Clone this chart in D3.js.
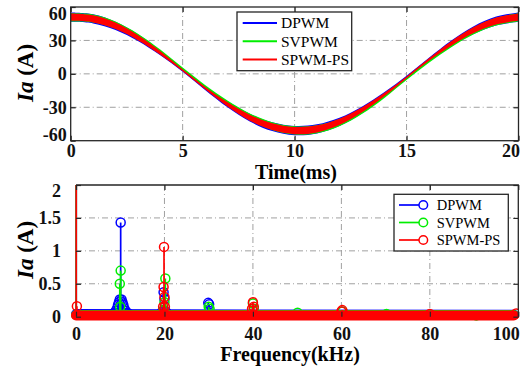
<!DOCTYPE html>
<html>
<head>
<meta charset="utf-8">
<script src="https://cdn.jsdelivr.net/npm/d3@7"></script>
<style>
  body { margin: 0; background: #fff; }
  text { font-family: "Liberation Serif", "Times New Roman", serif; }
</style>
</head>
<body>
<svg width="527" height="370"></svg>
<script>
// ---------- top panel: phase current over one period ----------
var timeMs = [0, 1, 2, 3, 4, 5, 6, 7, 8, 9, 10, 11, 12, 13, 14, 15, 16, 17, 18, 19, 20];
var dpwmIa = [50.9, 49.4, 43.1, 32.5, 18.8, 3.2, -12.7, -27.3, -39.3, -47.4, -50.9,
  -49.4, -43.1, -32.5, -18.8, -3.2, 12.7, 27.3, 39.3, 47.4, 50.9];
var svpwmIa = [50.6, 49.7, 43.8, 33.4, 19.9, 4.4, -11.5, -26.2, -38.5, -46.9, -50.8,
  -49.7, -43.8, -33.4, -19.9, -4.4, 11.5, 26.2, 38.5, 46.9, 50.6];
var spwmIa = [50.9, 49.4, 43.1, 32.5, 18.8, 3.2, -12.7, -27.3, -39.3, -47.4, -50.9,
  -49.4, -43.1, -32.5, -18.8, -3.2, 12.7, 27.3, 39.3, 47.4, 50.9];
// half width of the switching ripple band (A)
var dpwmRipple = [4.2, 4.1, 3.7, 3.0, 2.2, 1.4, 1.8, 2.7, 3.5, 4.0, 4.2, 4.1, 3.7, 3.0, 2.2, 1.4, 1.8, 2.7, 3.5, 4.0, 4.2];
var svpwmRipple = [3.7, 3.6, 3.2, 2.6, 1.9, 1.2, 1.5, 2.3, 3.0, 3.5, 3.7, 3.6, 3.2, 2.6, 1.9, 1.2, 1.5, 2.3, 3.0, 3.5, 3.7];
var spwmRipple = [3.3, 3.2, 2.9, 2.3, 1.6, 0.9, 1.2, 2.0, 2.7, 3.1, 3.3, 3.2, 2.9, 2.3, 1.6, 0.9, 1.2, 2.0, 2.7, 3.1, 3.3];
var timeTicks = [0, 5, 10, 15, 20];
var iaTicks = [-60, -30, 0, 30, 60];

// ---------- bottom panel: harmonic spectrum ----------
var dpwmFreq = [0.05, 8.3, 8.7, 9.0, 9.3, 9.5, 9.7, 9.9, 10.1, 10.3, 10.5, 10.7, 10.9, 11.2, 11.6, 12.0,
  19.2, 19.5, 19.8, 20.0, 20.3, 20.6, 29.9, 30.1];
var dpwmAmp = [50, 0.04, 0.06, 0.09, 0.13, 0.18, 0.22, 0.26, 1.43, 0.26, 0.22, 0.18, 0.13, 0.09, 0.06, 0.04,
  0.05, 0.08, 0.37, 0.27, 0.08, 0.05, 0.21, 0.19];
var svpwmFreq = [0.05, 9.9, 10.0, 10.1, 19.8, 20.0, 20.2, 30.0, 30.2, 40.0, 40.2, 50.1, 60.3, 70.2, 90.5];
var svpwmAmp = [50, 0.5, 0.15, 0.7, 0.1, 0.22, 0.58, 0.15, 0.12, 0.2, 0.12, 0.06, 0.08, 0.04, 0.02];
var spwmFreq = [0.05, 0.2, 19.7, 19.8, 19.9, 20.0, 20.1, 39.8, 40.0, 40.2, 60.0, 60.2, 80.0, 99.5];
var spwmAmp = [50, 0.16, 0.15, 0.45, 1.06, 0.3, 0.15, 0.12, 0.22, 0.15, 0.08, 0.1, 0.04, 0.05];
// dense near-zero bins (drawn as a band of overlapping markers)
var floorFreq = [0, 40, 99];
var dpwmFloor = [0.04, 0.035, 0.03];
var svpwmFloor = [0.025, 0.025, 0.025];
var spwmFloor = [0.02, 0.02, 0.02];
var freqTicks = [0, 20, 40, 60, 80, 100];
var ampTicks = [0, 0.5, 1, 1.5, 2];

var seriesNames = ["DPWM", "SVPWM", "SPWM-PS"];
var colors = ["#0000ff", "#00ee00", "#ff0000"];

var svg = d3.select("svg");

var defs = svg.append("defs");
defs.append("clipPath").attr("id", "clipTop")
  .append("rect").attr("x", 70.7).attr("y", 7).attr("width", 447.8).attr("height", 133.7);
defs.append("clipPath").attr("id", "clipBot")
  .append("rect").attr("x", 60).attr("y", 185).attr("width", 459).attr("height", 145);

// ================= TOP =================
var xT = d3.scaleLinear().domain([0, 20]).range([70.7, 518.5]);
var yT = d3.scaleLinear().domain([-60, 60]).range([140.7, 7]);

// grid (dash-dot)
var gT = svg.append("g");
gT.selectAll("line.gx").data(timeTicks.slice(1, -1)).enter().append("line")
  .attr("x1", d => xT(d)).attr("x2", d => xT(d)).attr("y1", 7).attr("y2", 140.7)
  .attr("stroke", "#a0a0a0").attr("stroke-dasharray", "6,3,1,3");
gT.selectAll("line.gy").data(iaTicks.slice(1, -1)).enter().append("line")
  .attr("x1", 70.7).attr("x2", 518.5).attr("y1", d => yT(d)).attr("y2", d => yT(d))
  .attr("stroke", "#a0a0a0").attr("stroke-dasharray", "6,3,1,3");

var topSeries = [
  { v: dpwmIa, r: dpwmRipple },
  { v: svpwmIa, r: svpwmRipple },
  { v: spwmIa, r: spwmRipple }
];
var band = d3.area()
  .x((d, i) => xT(timeMs[i]))
  .y0(d => yT(d[0] - d[1]))
  .y1(d => yT(d[0] + d[1]))
  .curve(d3.curveCatmullRom);
var topPlot = svg.append("g").attr("clip-path", "url(#clipTop)");
topSeries.forEach(function (s, k) {
  var pts = s.v.map((v, i) => [v, s.r[i]]);
  topPlot.append("path").datum(pts).attr("d", band).attr("fill", colors[k]);
});

// axes with inward ticks
svg.append("g").attr("transform", "translate(0,140.7)")
  .call(d3.axisBottom(xT).tickValues(timeTicks).tickFormat(d => String(d)).tickSize(-5).tickPadding(4))
  .call(styleAxis)
  .call(g => g.selectAll(".tick text").filter(d => d === 20).attr("text-anchor", "end").attr("x", 1));
svg.append("g").attr("transform", "translate(0,7)")
  .call(d3.axisTop(xT).tickValues(timeTicks).tickSize(-5).tickFormat(""))
  .call(styleAxis);
svg.append("g").attr("transform", "translate(70.7,0)")
  .call(d3.axisLeft(yT).tickValues(iaTicks).tickFormat(d => String(d)).tickSize(-5).tickPadding(4))
  .call(styleAxis)
  .call(g => g.selectAll(".tick text").filter(d => d === 60).attr("y", 6.5))
  .call(g => g.selectAll(".tick text").filter(d => d === -60).attr("y", -5.5));
svg.append("g").attr("transform", "translate(518.5,0)")
  .call(d3.axisRight(yT).tickValues(iaTicks).tickSize(-5).tickFormat(""))
  .call(styleAxis);
svg.append("rect").attr("x", 70.7).attr("y", 7).attr("width", 447.8).attr("height", 133.7)
  .attr("fill", "none").attr("stroke", "#262626").attr("stroke-width", 1.3);

// legend top
var lgT = svg.append("g");
lgT.append("rect").attr("x", 237).attr("y", 12).attr("width", 114.7).attr("height", 58.7)
  .attr("fill", "#fff").attr("stroke", "#262626").attr("stroke-width", 1.3);
seriesNames.forEach(function (n, k) {
  var y = 23 + k * 18.2;
  lgT.append("line").attr("x1", 242.7).attr("x2", 277).attr("y1", y).attr("y2", y)
    .attr("stroke", colors[k]).attr("stroke-width", 2);
  lgT.append("text").attr("x", 281).attr("y", y).attr("dy", "0.35em")
    .style("font-size", "15.5px").text(n);
});

// labels top
svg.append("text").attr("x", 296).attr("y", 178.5).attr("text-anchor", "middle")
  .style("font-size", "20px").style("font-weight", "bold").text("Time(ms)");
yLabel(73);

// ================= BOTTOM =================
var xB = d3.scaleLinear().domain([0, 100]).range([76, 518.3]);
var yB = d3.scaleLinear().domain([0, 2]).range([316.7, 185]);

var gB = svg.append("g");
gB.selectAll("line.gx").data(freqTicks.slice(1, -1)).enter().append("line")
  .attr("x1", d => xB(d)).attr("x2", d => xB(d)).attr("y1", 185).attr("y2", 316.7)
  .attr("stroke", "#a0a0a0").attr("stroke-dasharray", "6,3,1,3");
gB.selectAll("line.gy").data(ampTicks.slice(1, -1)).enter().append("line")
  .attr("x1", 76).attr("x2", 518.3).attr("y1", d => yB(d)).attr("y2", d => yB(d))
  .attr("stroke", "#a0a0a0").attr("stroke-dasharray", "6,3,1,3");

var botSeries = [
  { f: dpwmFreq, a: dpwmAmp, fl: dpwmFloor },
  { f: svpwmFreq, a: svpwmAmp, fl: svpwmFloor },
  { f: spwmFreq, a: spwmAmp, fl: spwmFloor }
];
var floorLine = d3.line().x((d, i) => xB(floorFreq[i])).y(d => yB(d));
var botPlot = svg.append("g").attr("clip-path", "url(#clipBot)");
botSeries.forEach(function (s, k) {
  var g = botPlot.append("g");
  g.append("path").datum(s.fl).attr("d", floorLine).attr("fill", "none")
    .attr("stroke", colors[k]).attr("stroke-width", 10).attr("stroke-linecap", "round");
  var pts = s.f.map((f, i) => ({ f: f, a: s.a[i] }));
  g.selectAll("line.stem").data(pts).enter().append("line")
    .attr("x1", d => xB(d.f)).attr("x2", d => xB(d.f))
    .attr("y1", yB(0)).attr("y2", d => yB(d.a))
    .attr("stroke", colors[k]).attr("stroke-width", 1.7);
  g.selectAll("circle").data(pts).enter().append("circle")
    .attr("cx", d => xB(d.f)).attr("cy", d => yB(d.a)).attr("r", 4.5)
    .attr("fill", "none").attr("stroke", colors[k]).attr("stroke-width", 1.5);
});

svg.append("g").attr("transform", "translate(0,316.7)")
  .call(d3.axisBottom(xB).tickValues(freqTicks).tickFormat(d => String(d)).tickSize(-5).tickPadding(10.5))
  .call(styleAxis)
  .call(g => g.selectAll(".tick text").filter(d => d === 100).attr("text-anchor", "end").attr("x", 1));
svg.append("g").attr("transform", "translate(0,185)")
  .call(d3.axisTop(xB).tickValues(freqTicks).tickSize(-5).tickFormat(""))
  .call(styleAxis);
svg.append("g").attr("transform", "translate(76,0)")
  .call(d3.axisLeft(yB).tickValues(ampTicks).tickFormat(d => String(d)).tickSize(-5).tickPadding(15))
  .call(styleAxis)
  .call(g => g.selectAll(".tick text").filter(d => d === 2).attr("y", 6));
svg.append("g").attr("transform", "translate(518.3,0)")
  .call(d3.axisRight(yB).tickValues(ampTicks).tickSize(-5).tickFormat(""))
  .call(styleAxis);
// box: top and right edges (left/bottom are covered by the data like in the original)
svg.append("path").attr("d", "M76,185H518.3V316.7")
  .attr("fill", "none").attr("stroke", "#262626").attr("stroke-width", 1.3);

// legend bottom
var lgB = svg.append("g");
lgB.append("rect").attr("x", 394).attr("y", 194.3).attr("width", 114.3).attr("height", 56.7)
  .attr("fill", "#fff").attr("stroke", "#262626").attr("stroke-width", 1.3);
seriesNames.forEach(function (n, k) {
  var y = 205 + k * 17.5;
  lgB.append("line").attr("x1", 399).attr("x2", 419).attr("y1", y).attr("y2", y)
    .attr("stroke", colors[k]).attr("stroke-width", 1.7);
  lgB.append("circle").attr("cx", 423.3).attr("cy", y).attr("r", 4.3)
    .attr("fill", "none").attr("stroke", colors[k]).attr("stroke-width", 1.5);
  lgB.append("text").attr("x", 436.7).attr("y", y).attr("dy", "0.35em")
    .style("font-size", "14.5px").text(n);
});

svg.append("text").attr("x", 290).attr("y", 361).attr("text-anchor", "middle")
  .style("font-size", "20px").style("font-weight", "bold").text("Frequency(kHz)");
yLabel(250);

function styleAxis(g) {
  g.select(".domain").remove();
  g.selectAll(".tick line").attr("stroke", "#262626").attr("stroke-width", 1.2);
  g.selectAll(".tick text").attr("fill", "#111")
    .style("font-family", "'Liberation Serif', 'Times New Roman', serif")
    .style("font-size", "18px").style("font-weight", "bold");
}

function yLabel(cy) {
  var t = svg.append("text").attr("transform", "translate(33," + cy + ") rotate(-90)")
    .attr("text-anchor", "middle").style("font-size", "23px").style("font-weight", "bold");
  t.append("tspan").style("font-style", "italic").text("Ia");
  t.append("tspan").text(" (A)");
}
</script>
</body>
</html>
